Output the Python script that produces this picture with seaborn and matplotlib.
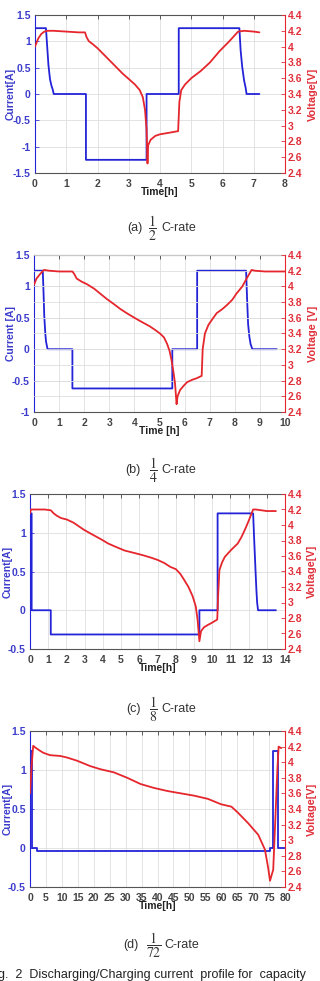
import numpy as np
import pandas as pd
import seaborn as sns
import matplotlib.pyplot as plt
from matplotlib.ticker import MultipleLocator, FuncFormatter

# ---- data (time [h], current [A], voltage [V]) ----
a_t_cur = [0, 0, 0.35, 0.39, 0.43, 0.48, 0.53, 0.56, 0.6, 1.63, 1.63, 3.57, 3.57, 4.6, 4.6,
           6.54, 6.58, 6.63, 6.69, 6.74, 6.77, 7.18]
a_cur = [0, 1.25, 1.25, 0.9, 0.55, 0.28, 0.15, 0.1, 0, 0, -1.25, -1.25, 0, 0, 1.25,
         1.25, 0.83, 0.52, 0.26, 0.12, 0, 0]
a_t_volt = [0, 0.1, 0.2, 0.3, 0.4, 0.6, 1.0, 1.4, 1.6, 1.65, 1.72, 1.85, 2.0, 2.2, 2.4, 2.6,
            2.8, 3.0, 3.2, 3.35, 3.45, 3.52, 3.57, 3.6, 3.62, 3.7, 3.85, 4.0, 4.3, 4.58,
            4.62, 4.68, 4.8, 5.0, 5.3, 5.6, 5.9, 6.2, 6.5, 6.7, 7.0, 7.18]
a_volt = [4.0, 4.1, 4.16, 4.19, 4.2, 4.2, 4.19, 4.18, 4.18, 4.12, 4.07, 4.03, 3.98, 3.9,
          3.82, 3.74, 3.66, 3.59, 3.52, 3.45, 3.36, 3.2, 2.95, 2.52, 2.75, 2.82, 2.87,
          2.89, 2.91, 2.93, 3.3, 3.45, 3.52, 3.6, 3.69, 3.8, 3.94, 4.06, 4.19, 4.2, 4.19, 4.18]

b_t_cur = [0, 0, 0.35, 0.38, 0.41, 0.45, 0.48, 0.54, 1.53, 1.53, 5.51, 5.51, 6.5, 6.5,
           8.45, 8.49, 8.53, 8.58, 8.63, 8.7, 9.67]
b_cur = [0, 1.25, 1.25, 0.9, 0.52, 0.25, 0.12, 0, 0, -0.625, -0.625, 0, 0, 1.25,
         1.25, 0.8, 0.4, 0.2, 0.08, 0, 0]
b_t_volt = [0, 0.1, 0.25, 0.4, 0.6, 1.0, 1.53, 1.6, 1.7, 1.9, 2.1, 2.4, 2.63, 2.9, 3.16,
            3.45, 3.69, 3.95, 4.22, 4.45, 4.62, 4.85, 5.02, 5.18, 5.3, 5.4, 5.48, 5.56,
            5.62, 5.68, 5.72, 5.82, 5.95, 6.1, 6.3, 6.48, 6.68, 6.72, 6.81, 6.95, 7.1,
            7.28, 7.5, 7.68, 7.9, 8.07, 8.3, 8.47, 8.67, 8.8, 9.2, 9.67, 10.0]
b_volt = [4.02, 4.1, 4.16, 4.21, 4.2, 4.19, 4.19, 4.16, 4.1, 4.06, 4.03, 3.97, 3.91, 3.84,
          3.78, 3.71, 3.66, 3.61, 3.56, 3.52, 3.49, 3.44, 3.4, 3.35, 3.27, 3.18, 3.06,
          2.9, 2.76, 2.5, 2.6, 2.68, 2.73, 2.78, 2.81, 2.83, 2.86, 3.2, 3.4, 3.51, 3.58,
          3.66, 3.71, 3.76, 3.83, 3.91, 4.0, 4.1, 4.21, 4.2, 4.19, 4.19, 4.19]

c_t_cur = [0, 0, 0.09, 0.09, 1.14, 1.14, 9.3, 9.3, 10.3, 10.3, 12.25, 12.31, 12.38,
           12.43, 12.47, 12.52, 13.5]
c_cur = [0, 1.25, 1.25, 0, 0, -0.3125, -0.3125, 0, 0, 1.25, 1.25, 0.9, 0.52, 0.26, 0.1, 0, 0]
c_t_volt = [0, 0.05, 0.3, 0.8, 1.14, 1.3, 1.47, 1.7, 2.03, 2.39, 2.7, 2.95, 3.4, 3.87,
            4.3, 4.79, 5.2, 5.71, 6.2, 6.63, 7.0, 7.37, 7.7, 8.01, 8.25, 8.47, 8.7, 8.93,
            9.1, 9.2, 9.3, 9.39, 9.55, 9.76, 10.0, 10.28, 10.33, 10.4, 10.55, 10.7, 11.05,
            11.4, 11.6, 11.8, 12.0, 12.25, 12.4, 13.0, 13.5]
c_volt = [4.15, 4.2, 4.2, 4.2, 4.19, 4.15, 4.12, 4.09, 4.07, 4.03, 3.98, 3.94, 3.88, 3.82,
          3.76, 3.71, 3.67, 3.64, 3.61, 3.58, 3.55, 3.51, 3.46, 3.43, 3.37, 3.29, 3.2,
          3.08, 2.95, 2.78, 2.5, 2.63, 2.68, 2.71, 2.74, 2.78, 3.1, 3.42, 3.52, 3.59,
          3.68, 3.76, 3.84, 3.94, 4.05, 4.2, 4.2, 4.18, 4.18]

d_t_cur = [0, 0, 0.75, 0.75, 2.1, 2.1, 75.3, 75.3, 76.2, 76.2, 77.9, 77.9, 80]
d_cur = [0, 1.25, 1.25, 0, 0, -0.035, -0.035, 0, 0, 1.25, 1.25, 0, 0]
d_t_volt = [0, 0.5, 1.0, 1.6, 3.0, 4.2, 6.3, 9.5, 11.6, 14.7, 18.9, 22.1, 26.3, 30.5,
            34.7, 38.9, 43.2, 47.4, 51.6, 55.8, 60, 63.2, 65.3, 68.4, 71.6, 73.7, 74.7,
            75.3, 76.0, 76.3, 77.0, 77.6, 78.0, 78.8]
d_volt = [3.6, 3.95, 4.21, 4.19, 4.15, 4.12, 4.09, 4.08, 4.06, 4.02, 3.95, 3.91, 3.87,
          3.8, 3.72, 3.67, 3.63, 3.6, 3.57, 3.53, 3.46, 3.43, 3.35, 3.22, 3.07, 2.88,
          2.65, 2.48, 2.58, 2.62, 3.3, 3.9, 4.2, 4.18]

cap_tags = ['(a)', '(b)', '(c)', '(d)']
cap_fracs = [r'$\dfrac{1}{2}$', r'$\dfrac{1}{4}$', r'$\dfrac{1}{8}$', r'$\dfrac{1}{72}$']
x_labels = ['Time[h]', 'Time [h]', 'Time[h]', 'Time[h]']
cur_labels = ['Current[A]', 'Current [A]', 'Current[A]', 'Current[A]']
volt_labels = ['Voltage[V]', 'Voltage [V]', 'Voltage[V]', 'Voltage[V]']

sns.set_style('white')
plt.rcParams['font.family'] = ['Liberation Sans', 'DejaVu Sans']
plt.rcParams['mathtext.fontset'] = 'stix'
plt.rcParams['axes.unicode_minus'] = False

BLUE = '#2323d8'
RED = '#e5262d'
BLUE_TXT = '#3d3dcc'
RED_TXT = '#e0303a'

# pixel layout: axes box (left, top, right, bottom), y-label centres, caption anchors
panels = [
    dict(tc=a_t_cur, c=a_cur, tv=a_t_volt, v=a_volt, xmax=8, xstep=1, ylim=(-1.5, 1.5),
         pos=[35, 15, 285, 173], ylx=(11, 313), cap=228, capx=(142, 152, 161), vgrid=False),
    dict(tc=b_t_cur, c=b_cur, tv=b_t_volt, v=b_volt, xmax=10, xstep=1, ylim=(-1, 1.5),
         pos=[34, 255, 285, 412], ylx=(11, 313), cap=470, capx=(141, 153, 161), vgrid=True),
    dict(tc=c_t_cur, c=c_cur, tv=c_t_volt, v=c_volt, xmax=14, xstep=1, ylim=(-0.5, 1.5),
         pos=[30, 494, 285, 649], ylx=(7.5, 312), cap=709, capx=(141, 153, 161), vgrid=False),
    dict(tc=d_t_cur, c=d_cur, tv=d_t_volt, v=d_volt, xmax=80, xstep=5, ylim=(-0.5, 1.5),
         pos=[30, 731, 285, 887], ylx=(7.5, 312), cap=945, capx=(138, 154, 164), vgrid=False),
]

W, H = 320, 981
fig = plt.figure(figsize=(W / 100, H / 100), dpi=100)
fmt = FuncFormatter(lambda v, p: f'{v:g}')

for i, p in enumerate(panels):
    l, t, r, b = p['pos']
    ax = fig.add_axes([l / W, 1 - b / H, (r - l) / W, (b - t) / H])
    ax2 = ax.twinx()

    cur_df = pd.DataFrame({'t': p['tc'], 'I': p['c']})
    volt_df = pd.DataFrame({'t': p['tv'], 'V': p['v']})
    sns.lineplot(data=cur_df, x='t', y='I', ax=ax, color=BLUE, lw=1.3,
                 sort=False, estimator=None)
    sns.lineplot(data=volt_df, x='t', y='V', ax=ax2, color=RED, lw=1.3,
                 sort=False, estimator=None)

    ax.set_xlim(0, p['xmax'])
    ax.set_ylim(*p['ylim'])
    ax2.set_ylim(2.4, 4.4)
    ax.xaxis.set_major_locator(MultipleLocator(p['xstep']))
    ax.yaxis.set_major_locator(MultipleLocator(0.5))
    ax2.yaxis.set_major_locator(MultipleLocator(0.2))
    ax.xaxis.set_major_formatter(fmt)
    ax.yaxis.set_major_formatter(fmt)
    ax2.yaxis.set_major_formatter(fmt)

    ax.grid(True, color='#dedede', lw=0.6)
    ax.set_axisbelow(True)
    if p['vgrid']:
        ax2.grid(True, axis='y', color='#dedede', lw=0.6, zorder=0)
        ax2.set_axisbelow(True)

    ax.tick_params(axis='x', direction='in', length=3, width=0.6, top=True,
                   pad=4, colors='#444444', labelsize=7.5)
    ax.tick_params(axis='y', direction='in', length=3, width=0.6, colors=BLUE_TXT,
                   pad=3, labelsize=7.5)
    ax2.tick_params(axis='y', direction='in', length=3, width=0.6, colors=RED_TXT,
                    pad=2, labelsize=7.5)
    for lab in ax.get_xticklabels() + ax.get_yticklabels() + ax2.get_yticklabels():
        lab.set_fontweight('bold')

    ax.set_xlabel(x_labels[i], fontsize=7.5, fontweight='bold', color='#222222', labelpad=-1)
    ax.set_ylabel(cur_labels[i], fontsize=7.5, fontweight='bold', color=BLUE_TXT)
    ax2.set_ylabel(volt_labels[i], fontsize=7.8, fontweight='bold', color=RED_TXT)
    # place y labels at the pixel columns seen in the reference
    xl, xr = p['ylx']
    ax.yaxis.set_label_coords((xl - l) / (r - l), 0.5)
    ax2.yaxis.set_label_coords((xr - l) / (r - l), 0.5)
    ax.yaxis.label.set_va('center')
    ax2.yaxis.label.set_va('center')

    for s in ['top', 'bottom']:
        ax.spines[s].set_color('#555555')
    ax.spines['left'].set_color(BLUE)
    ax.spines['right'].set_visible(False)
    ax2.spines['right'].set_color(RED)
    for s in ['left', 'top', 'bottom']:
        ax2.spines[s].set_visible(False)
    for s in ax.spines.values():
        s.set_linewidth(0.8)
    ax2.spines['right'].set_linewidth(0.8)

    # caption: tag, stacked fraction, "C-rate"
    xt, xf, xc = p['capx']
    yc = 1 - p['cap'] / H
    fig.text(xt / W, yc, cap_tags[i], ha='right', va='center', fontsize=9, color='#333333')
    fig.text(xf / W, yc, cap_fracs[i], ha='center', va='center', fontsize=10, color='#333333')
    fig.text(xc / W, yc, 'C-rate', ha='left', va='center', fontsize=9, color='#333333')

fig.text(-0.005, 0.003, 'g.  2  Discharging/Charging current  profile for  capacity',
         ha='left', va='baseline', fontsize=9, color='#222222')

fig.savefig('out.png', dpi=100, facecolor='white')
